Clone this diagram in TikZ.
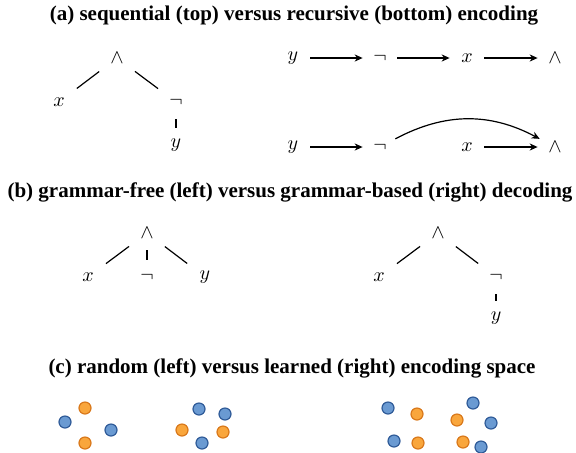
\documentclass[tikz,border=0pt]{standalone}
\usepackage{fontspec}
\newfontfamily\titlefont{Liberation Serif}
\usetikzlibrary{arrows.meta,positioning}
\usepackage{xcolor}
\definecolor{dotblue}{HTML}{6A9AD2}
\definecolor{dotblueline}{HTML}{2F5B98}
\definecolor{dotorange}{HTML}{F9A63C}
\definecolor{dotorangeline}{HTML}{D9781A}

\begin{document}
\begin{tikzpicture}[x=0.5pt,y=-0.5pt,
    sym/.style={circle,inner sep=0pt,minimum size=17pt},
    heading/.style={font=\titlefont\bfseries\fontsize{10.5}{12}\selectfont},
    branch/.style={line width=0.6pt,shorten <=2.5pt,shorten >=2.5pt},
    stem/.style={line width=0.6pt},
    seq/.style={line width=0.6pt,-{Stealth[length=4pt,width=3.6pt]}},
    bluedot/.style={fill=dotblue,draw=dotblueline,line width=0.6pt},
    orangedot/.style={fill=dotorange,draw=dotorangeline,line width=0.6pt}]
    \useasboundingbox (0,0) rectangle (576,452);
    % Headings
    \node[heading] (ha) at (294,16) {(a) sequential (top) versus recursive (bottom) encoding};
    \node[heading] (hb) at (290,192) {(b) grammar-free (left) versus grammar-based (right) decoding};
    \node[heading] (hc) at (292,368) {(c) random (left) versus learned (right) encoding space};
    % (a) tree
    \node[sym] (aand) at (117,58) {$\wedge$};
    \node[sym] (ax) at (59,102) {$x$};
    \node[sym] (aneg) at (176,102) {$\neg$};
    \node[sym] (ay) at (176,145) {$y$};
    \draw[branch] (aand) -- (ax);
    \draw[branch] (aand) -- (aneg);
    \draw[stem] (aneg) -- (ay);
    % (a) sequential
    \node[sym] (sy) at (293,58) {$y$};
    \node[sym] (sneg) at (380,58) {$\neg$};
    \node[sym] (sx) at (467,58) {$x$};
    \node[sym] (sand) at (555,58) {$\wedge$};
    \draw[seq] (sy) -- (sneg);
    \draw[seq] (sneg) -- (sx);
    \draw[seq] (sx) -- (sand);
    % (a) recursive
    \node[sym] (ry) at (293,147) {$y$};
    \node[sym] (rneg) at (380,147) {$\neg$};
    \node[sym] (rx) at (467,147) {$x$};
    \node[sym] (rand) at (555,147) {$\wedge$};
    \draw[seq] (ry) -- (rneg);
    \draw[seq] (rx) -- (rand);
    \draw[seq] (rneg) to[bend left=28] (rand);
    % (b) grammar-free
    \node[sym] (fand) at (147,233) {$\wedge$};
    \node[sym] (fx) at (88,277) {$x$};
    \node[sym] (fneg) at (147,277) {$\neg$};
    \node[sym] (fy) at (205,277) {$y$};
    \draw[branch] (fand) -- (fx);
    \draw[stem] (fand) -- (fneg);
    \draw[branch] (fand) -- (fy);
    % (b) grammar-based
    \node[sym] (gand) at (438,233) {$\wedge$};
    \node[sym] (gx) at (379,277) {$x$};
    \node[sym] (gneg) at (496,277) {$\neg$};
    \node[sym] (gy) at (496,318) {$y$};
    \draw[branch] (gand) -- (gx);
    \draw[branch] (gand) -- (gneg);
    \draw[stem] (gneg) -- (gy);
    % (c) encoding space
    \foreach \px/\py in {65/422, 111/430, 199/409, 225/414, 202/443,
                         388/408, 394/441, 473/403, 491/423, 481/447}
        \draw[bluedot] (\px,\py) circle (3pt);
    \foreach \px/\py in {85/408, 85/443, 182/430, 223/432,
                         417/414, 418/443, 457/420, 463/442}
        \draw[orangedot] (\px,\py) circle (3pt);
\end{tikzpicture}
\end{document}
